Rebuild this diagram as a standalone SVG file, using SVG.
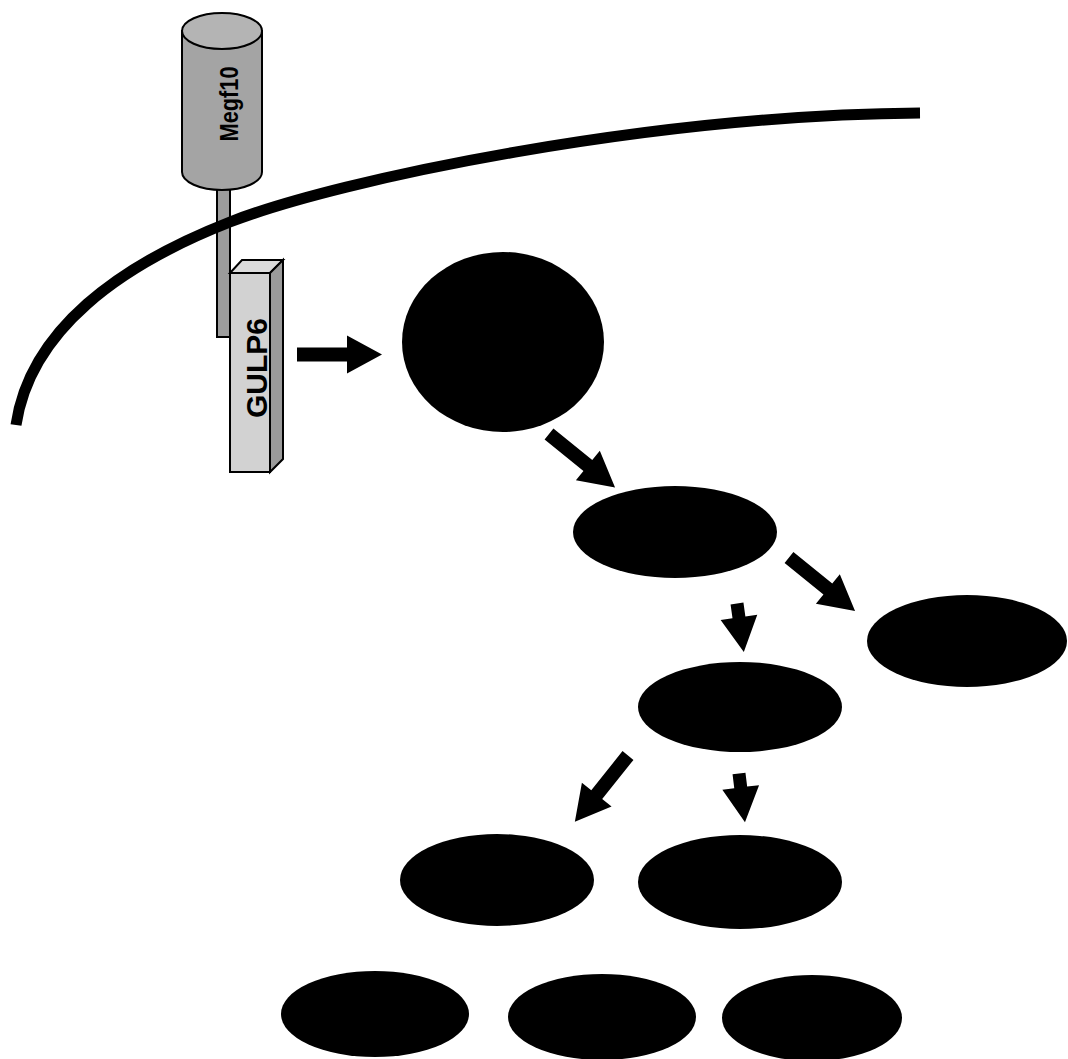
<svg xmlns="http://www.w3.org/2000/svg" width="1068" height="1059" viewBox="0 0 1068 1059">
<style>
.node{fill:#000}
.lbl{font-family:"Liberation Sans",Arial,sans-serif;font-weight:bold;fill:#000}
.edge{fill:#000}
.ol{stroke:#000;stroke-width:2}
</style>
<defs>
<polygon id="arrowLong" points="0,-7 50,-7 50,-19 85,0 50,19 50,7 0,7"/>
<polygon id="arrowShort" points="0,-6.5 14,-6.5 14,-18.5 49,0 14,18.5 14,6.5 0,6.5"/>
</defs>
<rect width="1068" height="1059" fill="#fff"/>
<g id="stem">
<rect x="217" y="188" width="13" height="149" fill="#9c9c9c" class="ol"/>
</g>
<g id="membrane">
<path d="M16,425 C30,330 120,265 230,222 S650,115 920,113" fill="none" stroke="#000" stroke-width="11"/>
</g>
<g id="megf10">
<path d="M182,31 L182,172 A40,18 0 0 0 262,172 L262,31 Z" fill="#a4a4a4" class="ol"/>
<ellipse cx="222" cy="31" rx="40" ry="18" fill="#b4b4b4" class="ol"/>
<text class="lbl" font-size="26" text-anchor="middle" textLength="75" lengthAdjust="spacingAndGlyphs" transform="translate(238,104) rotate(-90)">Megf10</text>
</g>
<g id="gulp6">
<polygon points="230,273 242,260 283,260 270,273" fill="#dcdcdc" class="ol"/>
<polygon points="270,273 283,260 283,459 270,472" fill="#9a9a9a" class="ol"/>
<rect x="230" y="273" width="40" height="199" fill="#d2d2d2" class="ol"/>
<text class="lbl" font-size="30" text-anchor="middle" transform="translate(267,368) rotate(-90)">GULP6</text>
</g>
<g id="n1"><ellipse class="node" cx="503" cy="342" rx="101" ry="90"/></g>
<g id="n2"><ellipse class="node" cx="675" cy="532" rx="102" ry="46"/></g>
<g id="n3"><ellipse class="node" cx="967" cy="641" rx="100" ry="46"/></g>
<g id="n4"><ellipse class="node" cx="740" cy="707" rx="102" ry="45"/></g>
<g id="n5"><ellipse class="node" cx="497" cy="880" rx="97" ry="46"/></g>
<g id="n6"><ellipse class="node" cx="740" cy="882" rx="102" ry="47"/></g>
<g id="n7"><ellipse class="node" cx="375" cy="1014" rx="94" ry="43"/></g>
<g id="n8"><ellipse class="node" cx="602" cy="1017" rx="94" ry="43"/></g>
<g id="n9"><ellipse class="node" cx="812" cy="1018" rx="90" ry="43"/></g>
<g id="connectors" class="edge">
<use href="#arrowLong" transform="translate(297,354.5)"/>
<use href="#arrowLong" transform="translate(549,434) rotate(39)"/>
<use href="#arrowLong" transform="translate(789,557.5) rotate(39)"/>
<use href="#arrowShort" transform="translate(737,603.5) rotate(82)"/>
<use href="#arrowLong" transform="translate(628,755.5) rotate(128.7)"/>
<use href="#arrowShort" transform="translate(739,773.5) rotate(83)"/>
</g>
</svg>
